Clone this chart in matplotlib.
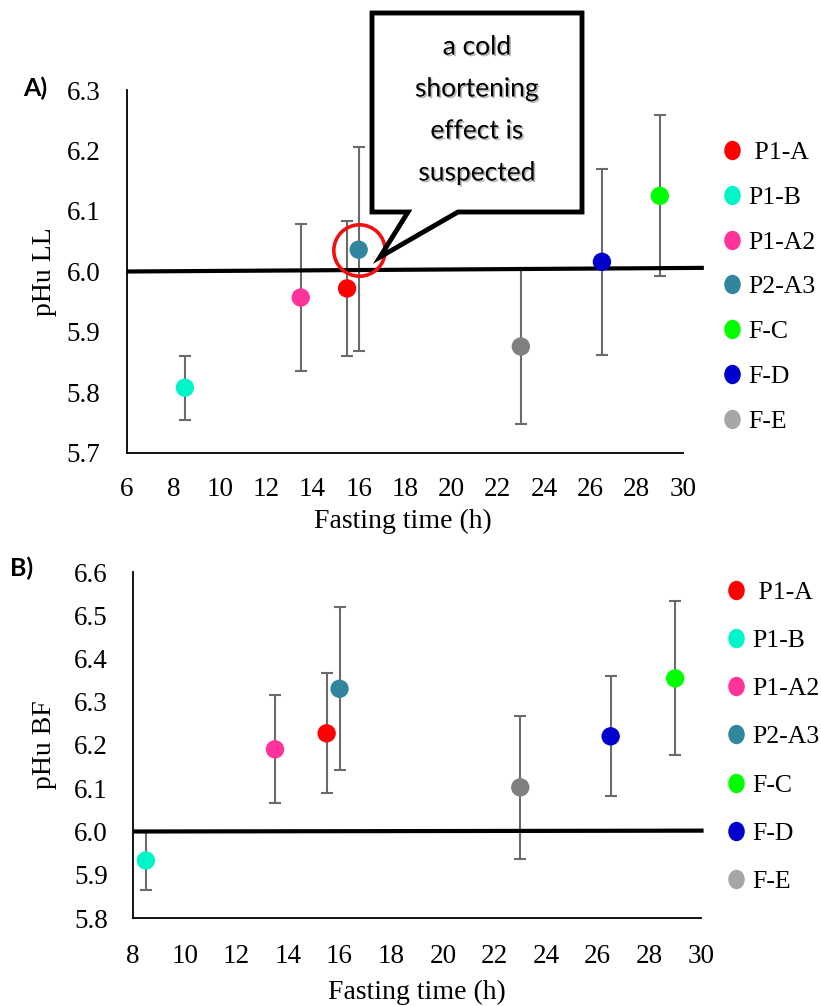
import numpy as np
import matplotlib
matplotlib.use("Agg")
import matplotlib.pyplot as plt
import matplotlib.patheffects as pe
from matplotlib.lines import Line2D
from matplotlib.patches import Polygon
from matplotlib.markers import MarkerStyle
from matplotlib.transforms import Affine2D

W, H = 821, 1006

groups = [" P1-A", "P1-B", "P1-A2", "P2-A3", "F-C", "F-D", "F-E"]
colors = ["#ff0000", "#00f5c8", "#ff3399", "#31859c", "#00ff00", "#0000cc", "#808080"]
legend_colors = ["#ff0000", "#00f5c8", "#ff3399", "#31859c", "#00ff00", "#0000cc", "#a6a6a6"]
fasting_h = [15.5, 8.5, 13.5, 16.0, 29.0, 26.5, 23.0]

# panel A: pHu LL
ll_mean = [5.972, 5.808, 5.957, 6.036, 6.125, 6.016, 5.876]
ll_upper = [6.084, 5.860, 6.079, 6.206, 6.259, 6.170, 6.006]
ll_lower = [5.860, 5.755, 5.835, 5.868, 5.992, 5.862, 5.748]
ll_ref_x = [6.0, 30.9]
ll_ref_y = [6.000, 6.006]

# panel B: pHu BF
bf_mean = [6.227, 5.933, 6.190, 6.330, 6.354, 6.220, 6.102]
bf_upper = [6.366, 6.000, 6.315, 6.518, 6.534, 6.360, 6.268]
bf_lower = [6.088, 5.864, 6.067, 6.142, 6.176, 6.081, 5.937]
bf_ref_x = [8.0, 30.1]
bf_ref_y = [6.000, 6.002]

callout_text = "a cold\nshortening\neffect is\nsuspected"

SERIF = ["Liberation Serif", "DejaVu Serif"]
SANS = ["Lato", "DejaVu Sans"]
plt.rcParams["font.family"] = SERIF


def fx(px):
    return px / W


def fy(py):
    return 1 - py / H


def draw_panel(ax, mean, upper, lower, ref_x, ref_y, xlim, ylim, ylabel, ypad, xpad):
    x = np.array(fasting_h)
    y = np.array(mean)
    err = [y - np.array(lower), np.array(upper) - y]
    ax.errorbar(x, y, yerr=err, fmt="none", ecolor="#6b6b6b", elinewidth=1.5,
                capsize=4.5, capthick=1.5, zorder=2)
    ax.plot(ref_x, ref_y, color="black", lw=3, clip_on=False, zorder=3,
            solid_capstyle="butt")
    ax.scatter(x, y, s=175, c=colors, zorder=4, linewidths=0)

    ax.set_xlim(*xlim)
    ax.set_ylim(*ylim)
    ax.set_xticks(np.arange(xlim[0], xlim[1] + 1, 2))
    ax.set_yticks(np.round(np.arange(ylim[0], ylim[1] + 0.001, 0.1), 1))
    ax.yaxis.set_major_formatter(matplotlib.ticker.FormatStrFormatter("%.1f"))
    for s in ["top", "right"]:
        ax.spines[s].set_visible(False)
    for s in ["left", "bottom"]:
        ax.spines[s].set_linewidth(1.3)
    ax.tick_params(length=0, labelsize=19.5, labelfontfamily="Liberation Serif")
    ax.tick_params(axis="y", pad=ypad)
    ax.tick_params(axis="x", pad=xpad)
    ax.set_xlabel("Fasting time (h)", fontsize=20, family=SERIF)
    ax.set_ylabel(ylabel, fontsize=20, family=SERIF)


def add_legend(ax, anchor, spacing):
    oval = MarkerStyle("o", transform=Affine2D().scale(0.85, 1.0))
    handles = [Line2D([], [], ls="none", marker=oval, ms=14, mfc=c, mec="none")
               for c in legend_colors]
    leg = ax.legend(handles, groups, loc="upper left", bbox_to_anchor=anchor,
                    bbox_transform=ax.figure.transFigure, frameon=False,
                    prop={"family": SERIF, "size": 18.5},
                    handlelength=0.9, handletextpad=0.2, labelspacing=spacing,
                    borderpad=0, borderaxespad=0)
    return leg


fig = plt.figure(figsize=(W / 100, H / 100), dpi=100)

ax_a = fig.add_axes([fx(127), fy(453), 556 / W, 363 / H])
draw_panel(ax_a, ll_mean, ll_upper, ll_lower, ll_ref_x, ll_ref_y,
           (6, 30), (5.7, 6.3), "pHu LL", 19, 17)
ax_a.xaxis.set_label_coords(0.497, -0.155)
ax_a.yaxis.set_label_coords(-0.126, 0.5)
# red circle around P2-A3
ax_a.plot(fasting_h[3], ll_mean[3], "o", ms=37, mfc="none", mec="#ee1111",
          mew=2.6, zorder=5, clip_on=False)
add_legend(ax_a, (fx(720), fy(141)), 0.85)

ax_b = fig.add_axes([fx(133), fy(918), 568 / W, 346 / H])
draw_panel(ax_b, bf_mean, bf_upper, bf_lower, bf_ref_x, bf_ref_y,
           (8, 30), (5.8, 6.6), "pHu BF", 18, 19)
ax_b.xaxis.set_label_coords(0.5, -0.178)
ax_b.yaxis.set_label_coords(-0.134, 0.5)
add_legend(ax_b, (fx(724), fy(581)), 0.98)

# panel letters
fig.text(fx(23), fy(88), "A)", fontsize=18, fontweight="bold",
         family=SANS, va="center", ha="left")
fig.text(fx(10), fy(568), "B)", fontsize=18, fontweight="bold",
         family=SANS, va="center", ha="left")

# callout box
box_px = [(372, 13), (582, 13), (582, 212), (458, 212), (380, 257), (408, 212), (372, 212)]
poly = Polygon([(fx(px), fy(py)) for px, py in box_px], closed=True,
               transform=fig.transFigure, facecolor="white", edgecolor="black",
               lw=3.5, joinstyle="miter", zorder=6)
fig.add_artist(poly)
fig.text(fx(477), fy(110), callout_text, ha="center", va="center", fontsize=19,
         family=SANS, linespacing=1.85, zorder=7,
         path_effects=[pe.withSimplePatchShadow(offset=(1.2, -1.2),
                                                shadow_rgbFace="#888888", alpha=0.6)])

fig.savefig("out.png", dpi=100)
